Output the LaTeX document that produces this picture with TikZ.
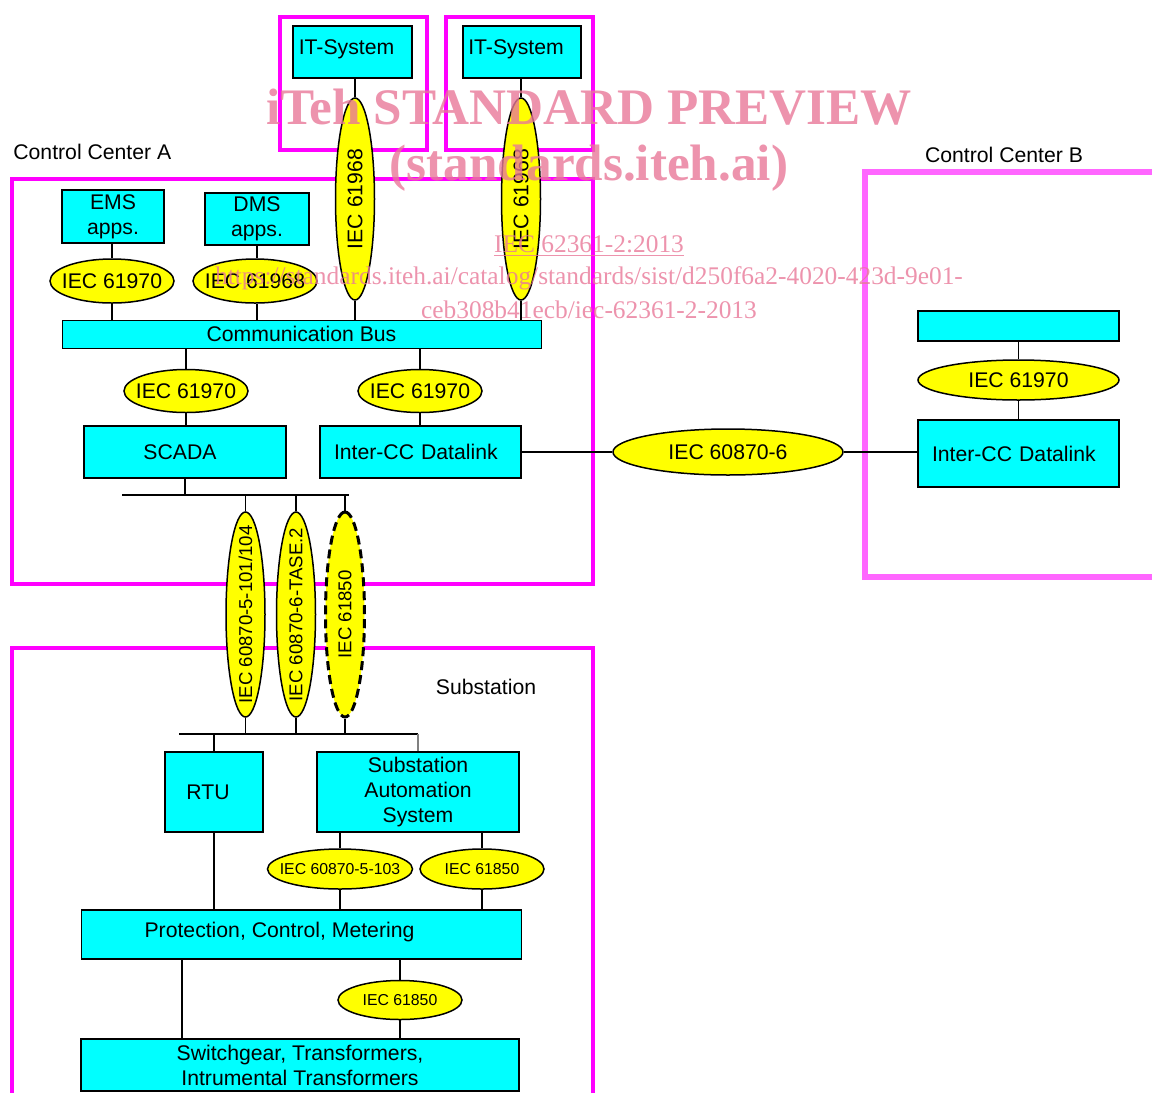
\documentclass[tikz,border=0pt]{standalone}
\usepackage{fontspec}
\setmainfont{Liberation Sans}
\newfontfamily\wmfont{Liberation Serif}
\usetikzlibrary{shapes.geometric}

\definecolor{boxcyan}{RGB}{0,255,255}
\definecolor{protoyellow}{RGB}{255,255,0}
\definecolor{zonemag}{RGB}{255,0,255}
\definecolor{zonemagb}{RGB}{255,102,255}
\definecolor{wmpink}{RGB}{232,120,152}

\newcommand\pl[1]{\makebox[0pt]{#1}}

\tikzset{
  unit/.style={draw, fill=boxcyan, line width=0.9pt, inner sep=0pt, align=center},
  datalink/.style={unit, align=left, text width=86.5pt, inner xsep=7pt, minimum height=26pt},
  proto/.style={ellipse, draw, fill=protoyellow, line width=0.75pt, inner sep=0pt},
  vproto/.style={proto, rotate=90, minimum width=102.5pt, minimum height=19.5pt},
  zone/.style={draw=zonemag, line width=2.2pt},
  wire/.style={line width=0.7pt},
  wm/.style={text=wmpink, opacity=0.8, inner sep=0pt}
}

\begin{document}
\begin{tikzpicture}[x=0.5pt, y=-0.5pt]
  \useasboundingbox (0,0) rectangle (1152,1093);
  \fontsize{10.6}{12.5}\selectfont

  \draw[zone] (12,179) rectangle (593,584);
  \draw[zone] (280,17) rectangle (427,150);
  \draw[zone] (446,17) rectangle (593,150);
  \draw[zone] (12,648) rectangle (593,1120);
  \draw[zone, draw=zonemagb, line width=2.6pt] (865,172) rectangle (1180,577);

  \node[anchor=west, inner sep=0pt] (ccalabel) at (13,152) {Control Center A};
  \node[inner sep=0pt] (ccblabel) at (1004,155) {Control Center B};
  \node[inner sep=0pt] (sublabel) at (486,687) {Substation};

  \node[unit, minimum width=59.5pt, minimum height=26pt] (it1) at (352.5,52)
    {\raisebox{4.5pt}{IT-System}\hspace*{6pt}};
  \node[unit, minimum width=59pt, minimum height=26pt] (it2) at (522,52)
    {\raisebox{4.5pt}{IT-System}\hspace*{6pt}};
  \node[unit, minimum width=51pt, minimum height=26.5pt] (ems) at (113,216.5)
    {EMS\\apps.};
  \node[unit, minimum width=52pt, minimum height=26pt] (dms) at (257,219)
    {DMS\\apps.};
  \node[unit, line width=0.5pt, minimum width=239.5pt, minimum height=14pt] (bus)
    at (301.5,334) {Communication Bus};
  \node[unit, minimum width=101pt, minimum height=26pt] (scada) at (185,452)
    {SCADA\hspace*{5pt}};
  \node[datalink] (icca) at (420.5,452) {Inter-CC Datalink};
  \node[datalink, minimum height=33.5pt] (iccb) at (1018.5,453.5) {Inter-CC Datalink};
  \node[unit, minimum width=100.5pt, minimum height=15pt] (ccbapp) at (1018.5,326) {};

  \node[proto, minimum width=62pt, minimum height=22pt] (ems61970) at (112,281)
    {\pl{IEC 61970}};
  \node[proto, minimum width=62pt, minimum height=22pt] (dms61968) at (255,281)
    {\pl{IEC 61968}};
  \node[vproto, minimum width=101pt] (it1e) at (355,199) {\pl{IEC 61968}};
  \node[vproto, minimum width=101pt] (it2e) at (521,199) {\pl{IEC 61968}};
  \node[proto, minimum width=62pt, minimum height=21.5pt] (scada61970) at (186,391)
    {\pl{IEC 61970}};
  \node[proto, minimum width=62pt, minimum height=21.5pt] (icc61970) at (420,391)
    {\pl{IEC 61970}};
  \node[proto, minimum width=115pt, minimum height=23pt] (cc60870) at (728,452)
    {\pl{IEC 60870-6}};
  \node[proto, minimum width=100.5pt, minimum height=20pt] (ccb61970) at (1018.5,380)
    {\pl{IEC 61970}};

  \node[vproto, font=\fontsize{9.3}{11}\selectfont] (t101) at (245.5,614.5)
    {\pl{IEC 60870-5-101/104}};
  \node[vproto, font=\fontsize{9.3}{11}\selectfont] (tase) at (296,614.5)
    {\pl{IEC 60870-6-TASE.2}};
  \node[vproto, font=\fontsize{9.3}{11}\selectfont, line width=1.5pt,
    dash pattern=on 4.5pt off 2.5pt] (t850) at (345,614.5) {\pl{IEC 61850}};

  \coordinate (sbusl) at (122,495);
  \coordinate (sbusr) at (349,495);
  \coordinate (lbusl) at (179,734);
  \coordinate (lbusr) at (418,734);

  \node[unit, minimum width=49pt, minimum height=40pt] (rtu) at (214,792)
    {RTU\hspace*{6pt}};
  \node[unit, minimum width=101pt, minimum height=40pt] (sas) at (418,792)
    {Substation\\Automation\\System};
  \node[unit, minimum width=220pt, minimum height=24.5pt] (pcm) at (301.5,934.5)
    {\raisebox{5pt}{Protection, Control, Metering}\hspace*{22pt}};
  \node[unit, minimum width=219pt, minimum height=26pt] (swg) at (300,1065)
    {Switchgear, Transformers,\\Intrumental Transformers};

  \scriptsize
  \node[proto, minimum width=72.5pt, minimum height=20pt,
    font=\fontsize{7.9}{9}\selectfont] (sas103) at (340,869) {\pl{IEC 60870-5-103}};
  \node[proto, minimum width=62pt, minimum height=20pt,
    font=\fontsize{7.9}{9}\selectfont] (sas850) at (482,869) {\pl{IEC 61850}};
  \node[proto, minimum width=62pt, minimum height=19.5pt,
    font=\fontsize{7.9}{9}\selectfont] (pcm850) at (400,1000) {\pl{IEC 61850}};
  \coordinate (drop) at (182,0);

  \draw[wire] (it1e.east) -- (it1e.east |- it1.south);
  \draw[wire] (it1e.west) -- (it1e.west |- bus.north);
  \draw[wire] (it2e.east) -- (it2e.east |- it2.south);
  \draw[wire] (it2e.west) -- (it2e.west |- bus.north);
  \draw[wire] (ems61970.north) -- (ems61970.north |- ems.south);
  \draw[wire] (ems61970.south) -- (ems61970.south |- bus.north);
  \draw[wire] (dms.south) -- (dms.south |- dms61968.north);
  \draw[wire] (dms61968.south -| dms.south) -- (dms.south |- bus.north);
  \draw[wire] (scada61970.north) -- (scada61970.north |- bus.south);
  \draw[wire] (scada61970.south) -- (scada61970.south |- scada.north);
  \draw[wire] (icc61970.north) -- (icc61970.north |- bus.south);
  \draw[wire] (icc61970.south) -- (icc61970.south |- icca.north);
  \draw[wire] (icca.east) -- (cc60870.west);
  \draw[wire] (cc60870.east) -- (cc60870.east -| iccb.west);
  \draw[wire] (ccbapp.south) -- (ccb61970.north);
  \draw[wire] (ccb61970.south) -- (iccb.north);

  \draw[wire] (sbusl) -- (sbusr);
  \draw[wire] (scada.south) -- (scada.south |- sbusl);
  \draw[wire] (t101.east) -- (t101.east |- sbusl);
  \draw[wire] (tase.east) -- (tase.east |- sbusl);
  \draw[wire] (t850.east) -- (t850.east |- sbusl);
  \draw[wire] (lbusl) -- (lbusr);
  \draw[wire] (t101.west) -- (t101.west |- lbusl);
  \draw[wire] (tase.west) -- (tase.west |- lbusl);
  \draw[wire] (t850.west) -- (t850.west |- lbusl);
  \draw[wire] (rtu.north) -- (rtu.north |- lbusl);
  \draw[wire, gray] (lbusr) -- (lbusr |- sas.north);

  \draw[wire] (rtu.south) -- (rtu.south |- pcm.north);
  \draw[wire] (sas103.north) -- (sas103.north |- sas.south);
  \draw[wire] (sas103.south) -- (sas103.south |- pcm.north);
  \draw[wire] (sas850.north) -- (sas850.north |- sas.south);
  \draw[wire] (sas850.south) -- ([yshift=-1pt]sas850.south |- pcm.north);
  \draw[wire] (pcm850.north) -- (pcm850.north |- pcm.south);
  \draw[wire] (pcm850.south) -- (pcm850.south |- swg.north);
  \draw[wire] (pcm.south -| drop) -- (swg.north -| drop);

  \node[wm, font=\wmfont\bfseries\fontsize{25.6}{30}\selectfont] (wmtitle) at (589,107)
    {iTeh STANDARD PREVIEW};
  \node[wm, font=\wmfont\bfseries\fontsize{25.6}{30}\selectfont] (wmsite) at (589,168)
    {(standards.iteh.ai)};
  \node[wm, font=\wmfont\fontsize{12.7}{16}\selectfont] (wmcode) at (589,246)
    {\underline{IEC 62361-2:2013}};
  \node[wm, font=\wmfont\fontsize{12.7}{16}\selectfont] (wmurl) at (589,278)
    {https://standards.iteh.ai/catalog/standards/sist/d250f6a2-4020-423d-9e01-};
  \node[wm, font=\wmfont\fontsize{12.7}{16}\selectfont] (wmurltail) at (589,310)
    {ceb308b41ecb/iec-62361-2-2013};
\end{tikzpicture}
\end{document}
